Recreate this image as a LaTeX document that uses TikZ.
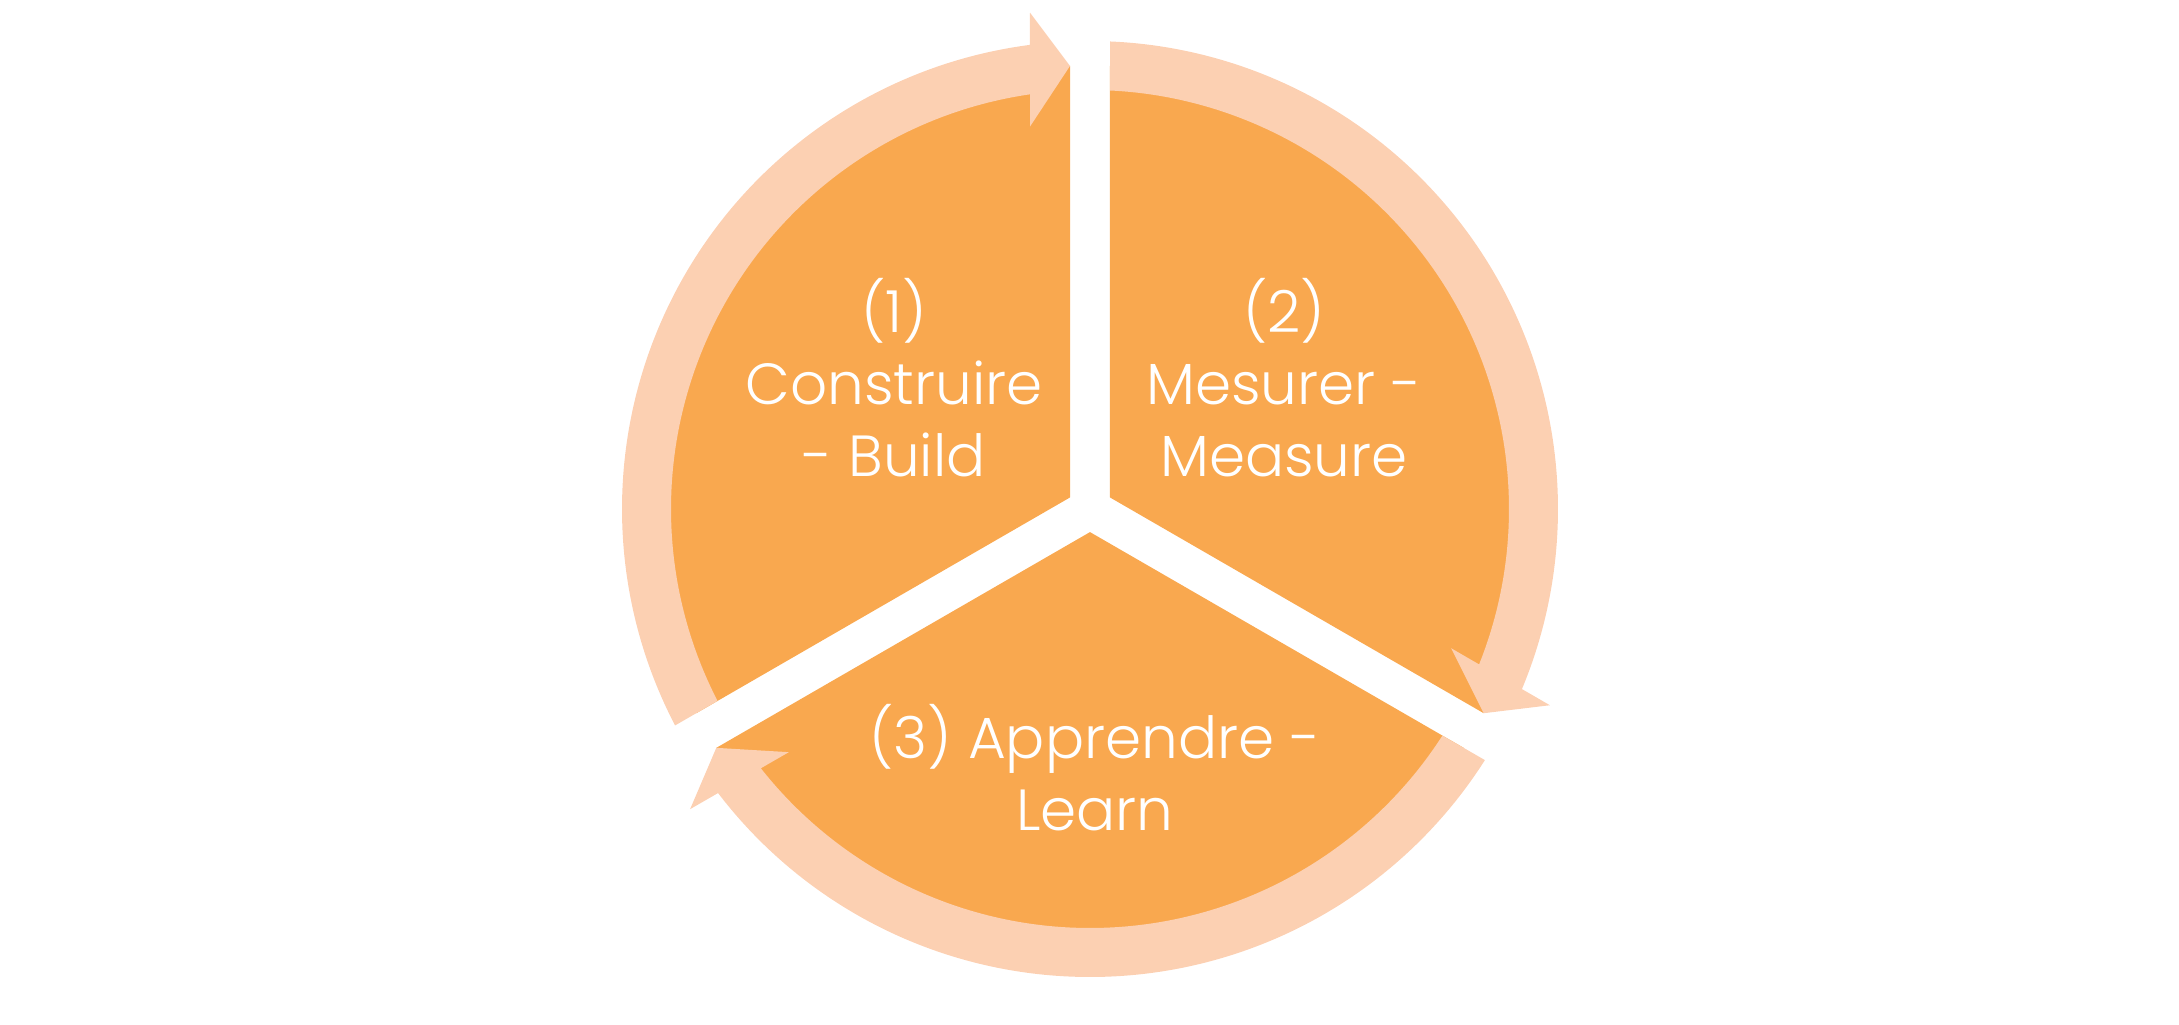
\documentclass[tikz,border=0pt]{standalone}
\usepackage{fontspec}
\setmainfont{Poppins}[UprightFont={* Light}]
\usepackage{tikz}

\definecolor{segfill}{HTML}{F9A84F}
\definecolor{arcfill}{HTML}{FCD0B2}

\begin{document}
\begin{tikzpicture}[x=0.01cm, y=0.01cm,
  segment/.style={fill=segfill},
  band/.style={fill=arcfill},
  cycletext/.style={text=white, align=center, inner sep=0pt,
    font=\fontsize{16.5}{20.5}\selectfont}]

\useasboundingbox (-1090,-515) rectangle (1089,509);

\begin{scope}[segment]
  \fill (150:23.09) -- (92.585:443.5) arc[start angle=92.585, end angle=207.415, radius=443.5] -- cycle;
  \fill (30:23.09) -- (-27.415:443.5) arc[start angle=-27.415, end angle=87.415, radius=443.5] -- cycle;
  \fill (270:23.09) -- (212.585:443.5) arc[start angle=212.585, end angle=327.415, radius=443.5] -- cycle;
\end{scope}

\begin{scope}[band]
  \fill (207.26:419) -- (207.55:468) arc[start angle=207.55, end angle=97.37, radius=468]
    -- (-60,496.4) -- (-20,443.05) -- (-60,382.4)
    -- (98.23:419) arc[start angle=98.23, end angle=207.26, radius=419] -- cycle;
\end{scope}

\begin{scope}[band, rotate=-120]
  \fill (207.26:419) -- (207.55:468) arc[start angle=207.55, end angle=97.37, radius=468]
    -- (-60,496.4) -- (-20,443.05) -- (-60,382.4)
    -- (98.23:419) arc[start angle=98.23, end angle=207.26, radius=419] -- cycle;
\end{scope}

\begin{scope}[band, rotate=-240]
  \fill (207.26:419) -- (207.55:468) arc[start angle=207.55, end angle=97.37, radius=468]
    -- (-60,496.4) -- (-20,443.05) -- (-60,382.4)
    -- (98.23:419) arc[start angle=98.23, end angle=207.26, radius=419] -- cycle;
\end{scope}

\node[cycletext] (build) at (-196,131) {(1)\\Construire\\- Build};
\node[cycletext] (measure) at (194,131) {(2)\\Mesurer -\\Measure};
\node[cycletext] (learn) at (5,-259) {(3) Apprendre -\\Learn};

\end{tikzpicture}
\end{document}
